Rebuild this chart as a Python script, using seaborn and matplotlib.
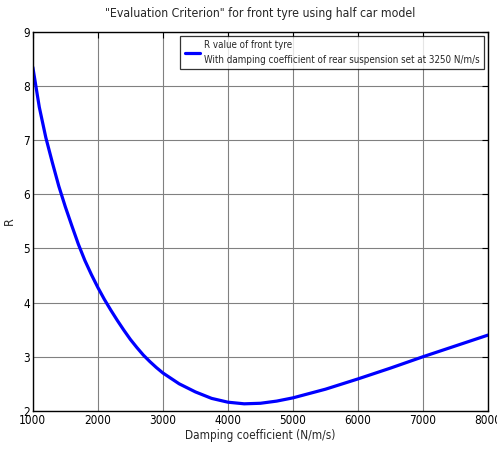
import matplotlib
matplotlib.use("Agg")
import matplotlib.pyplot as plt
import seaborn as sns
import pandas as pd

# Front tyre evaluation criterion R versus front damping coefficient
damping = [1000, 1100, 1200, 1300, 1400, 1500, 1600, 1700, 1800, 1900,
           2000, 2100, 2200, 2300, 2400, 2500, 2600, 2700, 2800, 2900,
           3000, 3250, 3500, 3750, 4000, 4250, 4500, 4750, 5000, 5500,
           6000, 6500, 7000, 7500, 8000]
r_value = [8.35, 7.61, 7.05, 6.59, 6.15, 5.77, 5.42, 5.08, 4.78, 4.52,
           4.28, 4.06, 3.86, 3.67, 3.49, 3.32, 3.17, 3.03, 2.91, 2.80,
           2.70, 2.50, 2.35, 2.23, 2.16, 2.13, 2.14, 2.18, 2.24, 2.40,
           2.59, 2.79, 3.00, 3.20, 3.40]

x_ticks = [1000, 2000, 3000, 4000, 5000, 6000, 7000, 8000]
y_ticks = [2, 3, 4, 5, 6, 7, 8, 9]

df = pd.DataFrame({"damping": damping, "R": r_value})

sns.set_theme(style="white")
plt.rcParams["font.family"] = ["DejaVu Sans"]
plt.rcParams["font.stretch"] = "condensed"

fig = plt.figure(figsize=(4.97, 4.50), dpi=100)
ax = fig.add_axes([0.066, 0.087, 0.916, 0.842])

sns.lineplot(data=df, x="damping", y="R", ax=ax, color="#0000ff", linewidth=2.3,
             label="R value of front tyre\nWith damping coefficient of rear suspension set at 3250 N/m/s")

ax.set_xlim(1000, 8000)
ax.set_ylim(2, 9)
ax.set_xticks(x_ticks)
ax.set_yticks(y_ticks)
ax.grid(True, color="#808080", linewidth=0.8, linestyle="-")
ax.tick_params(direction="in", length=4, width=0.8, colors="black", labelsize=8.5,
               top=True, right=True, pad=2)
for s in ax.spines.values():
    s.set_color("black")
    s.set_linewidth(1.0)

ax.set_xlabel("Damping coefficient (N/m/s)", fontsize=8.5, labelpad=2)
ax.set_ylabel("R", fontsize=9, labelpad=5)
ax.set_title("\"Evaluation Criterion\" for front tyre using half car model",
             fontsize=8.8, pad=11)

leg = ax.legend(loc="upper right", fontsize=7, frameon=True, fancybox=False,
                edgecolor="black", handlelength=1.6, handletextpad=0.4,
                borderpad=0.45, borderaxespad=0.4)
for t in leg.get_texts():
    t.set_linespacing(1.55)
leg.get_frame().set_linewidth(0.9)

fig.savefig("out.png", dpi=100)
